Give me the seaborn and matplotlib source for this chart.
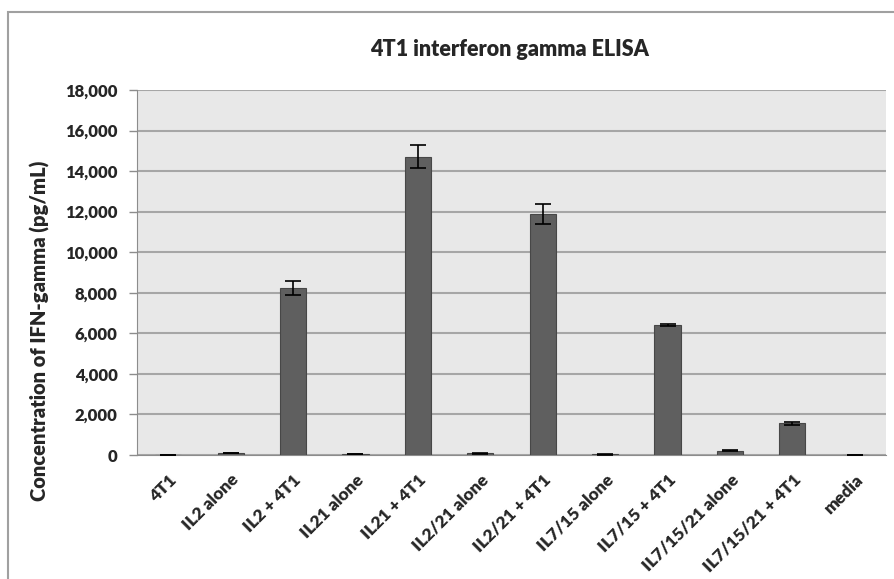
import matplotlib
matplotlib.use("Agg")
import matplotlib.pyplot as plt
import seaborn as sns
import pandas as pd
from matplotlib.patches import Rectangle

categories = [
    "4T1", "IL2 alone", "IL2 + 4T1", "IL21 alone", "IL21 + 4T1",
    "IL2/21 alone", "IL2/21 + 4T1", "IL7/15 alone", "IL7/15 + 4T1",
    "IL7/15/21 alone", "IL7/15/21 + 4T1", "media",
]
ifn_gamma = [10, 100, 8230, 40, 14720, 80, 11900, 30, 6420, 200, 1560, 10]
ifn_err = [0, 20, 350, 10, 550, 15, 500, 10, 40, 25, 80, 0]
yticks = list(range(0, 18001, 2000))

sns.set_style("white")
plt.rcParams["font.family"] = ["Lato", "DejaVu Sans"]
plt.rcParams["font.weight"] = "heavy"

df = pd.DataFrame({"group": categories, "conc": ifn_gamma})

fig = plt.figure(figsize=(8.94, 5.79), dpi=100)
ax = fig.add_axes([137 / 894, 1 - 455 / 579, (886 - 137) / 894, (455 - 90) / 579])
ax.set_facecolor("#e8e8e8")

sns.barplot(data=df, x="group", y="conc", color="#5f5f5f", saturation=1,
            width=0.42, edgecolor="#474747", linewidth=0.8, ax=ax, zorder=3)
ax.errorbar(range(len(categories)), ifn_gamma, yerr=ifn_err, fmt="none",
            ecolor="black", elinewidth=1.2, capsize=6, capthick=1.2, zorder=4)

ax.set_ylim(0, 18000)
ax.set_xlim(-0.5, len(categories) - 0.5)
ax.set_yticks(yticks)
ax.set_yticklabels([f"{v:,}" for v in yticks], fontsize=12, fontweight="heavy")
ax.yaxis.grid(True, color="#a6a6a6", linewidth=1.5, zorder=0)
ax.set_axisbelow(True)

ax.set_xticks(range(len(categories)))
ax.set_xticklabels(categories, rotation=45, ha="right", rotation_mode="anchor",
                   fontsize=12.5, fontweight="heavy")
ax.tick_params(axis="x", length=0, pad=12)
ax.set_xticks([i - 0.5 for i in range(len(categories) + 1)], minor=True)
ax.tick_params(axis="x", which="minor", length=6, color="#8c8c8c", width=1)
ax.tick_params(axis="y", length=6, color="#8c8c8c", width=1, left=True, pad=8)

for side in ["top", "right"]:
    ax.spines[side].set_visible(False)
ax.spines["left"].set_color("#8c8c8c")
ax.spines["bottom"].set_color("#8c8c8c")
ax.set_xlabel("")
ax.set_ylabel("")

fig.text(40 / 894, 1 - 331 / 579, "Concentration of IFN-gamma (pg/mL)",
         rotation=90, ha="center", va="center", fontsize=14.5, fontweight="heavy")
fig.text(509 / 894, 1 - 50 / 579, "4T1 interferon gamma ELISA",
         ha="center", va="center", fontsize=15.5, fontweight="heavy")

fig.patches.append(Rectangle((8 / 894, -0.1), 1.2, 1 - 12 / 579 + 0.1,
                             transform=fig.transFigure, fill=False,
                             edgecolor="#a0a0a0", linewidth=1.5))

fig.savefig("out.png", dpi=100)
